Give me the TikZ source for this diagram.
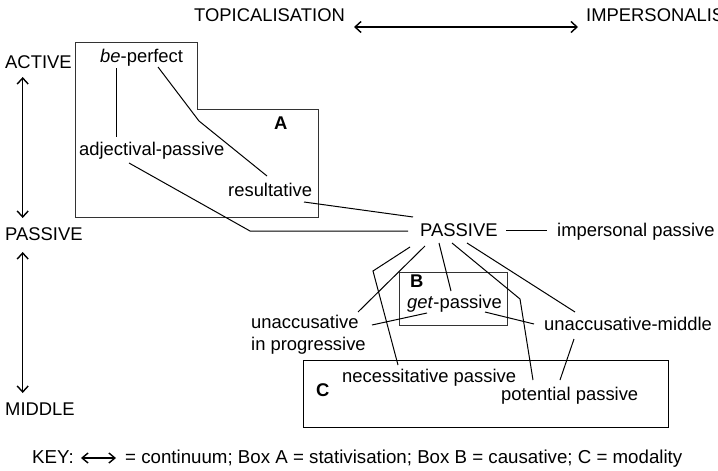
\documentclass[tikz,border=0pt]{standalone}
\usepackage{fontspec}
\setmainfont{Liberation Sans}
\usetikzlibrary{arrows.meta}
\begin{document}
\begin{tikzpicture}[x=1pt,y=-1pt,
  txt/.style={inner sep=0pt,anchor=base west,font=\fontsize{18.4}{22}\selectfont},
  conn/.style={line width=1pt},
  boxline/.style={line width=1pt,draw=black!80},
  dbl/.style={line width=1.4pt,{Straight Barb[length=6pt,width=11pt]}-{Straight Barb[length=6pt,width=11pt]}}]
\clip (0,0) rectangle (718,471);
% boxes
\draw[boxline] (75,42) -- (197,42) -- (197,109) -- (318,109) -- (318,217) -- (75,217) -- cycle;
\draw[boxline] (399,272) rectangle (507,325);
\draw[line width=1pt] (303,360) rectangle (668,427);
% axis labels
\node[txt] (top) at (194,21) {TOPICALISATION};
\node[txt] (impz) at (586,21) {IMPERSONALISATION};
\node[txt] (act) at (5,68) {ACTIVE};
\node[txt] (pasL) at (5,240) {PASSIVE};
\node[txt] (mid) at (5,415) {MIDDLE};
\draw[dbl] ([xshift=9pt,yshift=-6pt]top.base east) -- ([xshift=-8pt,yshift=-6pt]impz.base west);
\draw[dbl] ([shift={(17.7,9)}]act.base west) -- ([shift={(17.7,-22)}]pasL.base west);
\draw[dbl] ([shift={(17.7,12)}]pasL.base west) -- ([shift={(17.7,-22)}]mid.base west);
% nodes
\node[txt] (be) at (100,62) {\textit{be}-perfect};
\node[txt] (adj) at (79,155) {adjectival-passive};
\node[txt] (res) at (228,196) {resultative};
\node[txt,font=\fontsize{18.4}{22}\selectfont\bfseries] (Alab) at (274,129) {A};
\node[txt] (pas) at (420,236) {PASSIVE};
\node[txt] (imp) at (557,236) {impersonal passive};
\node[txt,font=\fontsize{18.4}{22}\selectfont\bfseries] (Blab) at (410,287) {B};
\node[txt] (get) at (407,308) {\textit{get}-passive};
\node[txt] (unA) at (251,328) {unaccusative};
\node[txt] (unB) at (251,350) {in progressive};
\node[txt] (unmid) at (544,330) {unaccusative-middle};
\node[txt] (nec) at (342,382) {necessitative passive};
\node[txt] (pot) at (501,400) {potential passive};
\node[txt,font=\fontsize{18.4}{22}\selectfont\bfseries] (Clab) at (316,396) {C};
% connectors
\draw[conn] ([shift={(16,6)}]be.base west) -- ([shift={(37,-18)}]adj.base west);
\draw[conn] ([shift={(58,5)}]be.base west) -- (199,121) -- ([shift={(39,-20)}]res.base west);
\draw[conn] ([shift={(50,8)}]adj.base west) -- (250,231) -- ([shift={(-12,-5)}]pas.base west);
\draw[conn] ([shift={(76,6)}]res.base west) -- ([shift={(-7,-19)}]pas.base west);
\draw[conn] ([shift={(86,-6)}]pas.base west) -- ([shift={(-10,-6)}]imp.base west);
\draw[conn] ([shift={(-10,11)}]pas.base west) -- (373,271) -- ([shift={(56,-17)}]nec.base west);
\draw[conn] ([shift={(5,10)}]pas.base west) -- ([shift={(107,-16)}]unA.base west);
\draw[conn] ([shift={(19,7)}]pas.base west) -- ([shift={(44,-17)}]get.base west);
\draw[conn] ([shift={(32,7)}]pas.base west) -- (520,299) -- ([shift={(32,-20)}]pot.base west);
\draw[conn] ([shift={(47,7)}]pas.base west) -- ([shift={(31,-18)}]unmid.base west);
\draw[conn] ([shift={(20,5)}]get.base west) -- ([shift={(121,-3)}]unA.base west);
\draw[conn] ([shift={(78,4)}]get.base west) -- ([shift={(-10,-6)}]unmid.base west);
\draw[conn] ([shift={(30,9)}]unmid.base west) -- ([shift={(59,-20)}]pot.base west);
% key
\node[txt,font=\fontsize{18.7}{22}\selectfont] (key) at (32,463) {KEY:};
\node[txt,font=\fontsize{18.7}{22}\selectfont] (keyrest) at (125,463) {= continuum; Box A = stativisation; Box B = causative; C = modality};
\draw[line width=1.4pt,{Straight Barb[length=6pt,width=10pt]}-{Straight Barb[length=6pt,width=10pt]}] ([shift={(7,-5)}]key.base east) -- ([shift={(-9,-5)}]keyrest.base west);
\end{tikzpicture}
\end{document}
